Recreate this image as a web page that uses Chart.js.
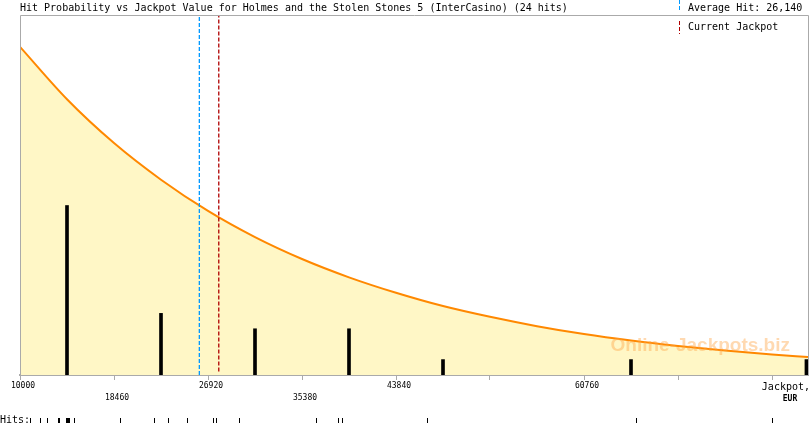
<!DOCTYPE html>
<html>
<head>
<meta charset="utf-8">
<script src="https://cdn.jsdelivr.net/npm/chart.js@4/dist/chart.umd.min.js"></script>
<style>
  html, body { margin: 0; padding: 0; background: #fff; }
  #wrap { width: 810px; height: 425px; }
</style>
</head>
<body>
<div id="wrap"><canvas id="chart" width="810" height="425"></canvas></div>
<script>
// Hit probability chart data
const chartTitle = 'Hit Probability vs Jackpot Value for Holmes and the Stolen Stones 5 (InterCasino) (24 hits)';
const averageHit = 26140;
const currentJackpot = 27890;
const xMin = 10000;
const xMax = 80920;

// axis ticks, every 8460 EUR
const tickValues = [10000, 18460, 26920, 35380, 43840, 52300, 60760, 69220, 77680];
const tickLabels = ['10000', '18460', '26920', '35380', '43840', '', '60760', '', ''];

// probability curve (fraction of plot height)
const curveX = [10000, 14230, 18460, 22690, 26920, 31150, 35380, 39610, 43840, 48070, 52300, 56530, 60760, 64990, 69220, 73450, 77680, 80920];
const curveY = [0.914, 0.768, 0.646, 0.544, 0.457, 0.384, 0.323, 0.272, 0.229, 0.192, 0.162, 0.136, 0.114, 0.096, 0.081, 0.068, 0.057, 0.050];

// histogram of hits per bin
const binCenters = [14230, 22690, 31150, 39610, 48070, 64990, 80780];
const binCounts = [11, 4, 3, 3, 1, 1, 1];

// individual hits (EUR)
const hitValues = [10855, 11755, 12385, 13420, 13465, 14095, 14185, 14230, 14275, 14365, 14815,
    19020, 22080, 23340, 25050,
    27350, 27600, 29690,
    36600, 38640, 39000,
    46610, 65460, 77700];

const MONO = '"DejaVu Sans Mono", "Liberation Mono", monospace';
const GRAY = '#aaaaaa';
const BLUE = '#0099ff';
const RED = '#b00000';

const decorPlugin = {
    id: 'decor',
    afterDatasetsDraw(chart) {
        const { ctx, chartArea } = chart;
        // watermark
        ctx.save();
        ctx.font = 'bold 19px "Liberation Sans", Arial, sans-serif';
        ctx.fillStyle = 'rgba(255, 165, 70, 0.42)';
        ctx.textAlign = 'right';
        ctx.textBaseline = 'alphabetic';
        ctx.fillText('Online-Jackpots.biz', chartArea.right - 18, chartArea.bottom - 24);
        ctx.restore();
    },
    afterDraw(chart) {
        const { ctx, chartArea } = chart;
        const x = chart.scales.x;
        ctx.save();
        // frame: top, left and right border
        ctx.strokeStyle = GRAY;
        ctx.lineWidth = 1;
        ctx.beginPath();
        ctx.moveTo(chartArea.left + 0.5, chartArea.bottom);
        ctx.lineTo(chartArea.left + 0.5, chartArea.top - 0.5);
        ctx.lineTo(chartArea.right + 0.5, chartArea.top - 0.5);
        ctx.lineTo(chartArea.right + 0.5, chartArea.bottom);
        ctx.stroke();

        // title
        ctx.fillStyle = '#000';
        ctx.font = '10px ' + MONO;
        ctx.textBaseline = 'alphabetic';
        ctx.textAlign = 'left';
        ctx.fillText(chartTitle, chartArea.left, 11);

        // legend
        const lx = 679.5;
        ctx.setLineDash([4, 2]);
        ctx.strokeStyle = BLUE;
        ctx.beginPath(); ctx.moveTo(lx, 0); ctx.lineTo(lx, 11); ctx.stroke();
        ctx.strokeStyle = RED;
        ctx.beginPath(); ctx.moveTo(lx, 21); ctx.lineTo(lx, 34); ctx.stroke();
        ctx.setLineDash([]);
        ctx.fillText('Average Hit: ' + averageHit.toLocaleString('en-US'), 688, 11);
        ctx.fillText('Current Jackpot', 688, 30);

        // axis name
        ctx.textAlign = 'right';
        ctx.fillText('Jackpot,', 810, 390);
        ctx.font = 'bold 8px ' + MONO;
        ctx.textAlign = 'center';
        ctx.fillText('EUR', 790, 401);

        // hits strip
        ctx.font = '10px ' + MONO;
        ctx.textAlign = 'left';
        ctx.fillText('Hits:', 0, 423);
        ctx.fillStyle = '#000';
        hitValues.forEach(v => {
            const px = Math.round(x.getPixelForValue(v));
            ctx.fillRect(px, 418, 1, 5);
        });
        ctx.restore();
    }
};

const ctx = document.getElementById('chart').getContext('2d');
new Chart(ctx, {
    type: 'line',
    data: {
        datasets: [
            {
                label: 'Average Hit',
                data: [{ x: averageHit, y: 0 }, { x: averageHit, y: 1 }],
                borderColor: BLUE,
                borderWidth: 1.3,
                borderDash: [4, 2],
                pointRadius: 0,
                fill: false,
                yAxisID: 'y',
                order: 1
            },
            {
                label: 'Current Jackpot',
                data: [{ x: currentJackpot, y: 0.01 }, { x: currentJackpot, y: 1 }],
                borderColor: RED,
                borderWidth: 1.3,
                borderDash: [4, 2],
                pointRadius: 0,
                fill: false,
                yAxisID: 'y',
                order: 1
            },
            {
                type: 'bar',
                label: 'Hits',
                data: binCenters.map((c, i) => ({ x: c, y: binCounts[i] })),
                backgroundColor: '#000',
                barThickness: 3,
                yAxisID: 'yHits',
                order: 2
            },
            {
                label: 'Hit Probability',
                data: curveX.map((c, i) => ({ x: c, y: curveY[i] })),
                borderColor: '#ff8800',
                borderWidth: 2,
                backgroundColor: '#fff7c6',
                fill: 'origin',
                pointRadius: 0,
                cubicInterpolationMode: 'monotone',
                yAxisID: 'y',
                order: 3
            }
        ]
    },
    options: {
        responsive: false,
        animation: false,
        layout: { padding: { left: 20, right: 2, top: 16, bottom: 21 } },
        plugins: {
            legend: { display: false },
            title: { display: false },
            tooltip: { enabled: false }
        },
        scales: {
            x: {
                type: 'linear',
                min: xMin,
                max: xMax,
                offset: false,
                afterBuildTicks: scale => { scale.ticks = tickValues.map(v => ({ value: v })); },
                grid: { drawOnChartArea: false, drawTicks: true, tickLength: 5, color: GRAY, offset: false },
                border: { color: GRAY, width: 2 },
                ticks: {
                    autoSkip: false,
                    maxRotation: 0,
                    padding: 0,
                    labelOffset: 3,
                    color: '#000',
                    font: { family: MONO, size: 8, lineHeight: 1.5 },
                    callback: (value, index) => {
                        const lbl = tickLabels[index] || '';
                        return index % 2 === 0 ? [lbl, ''] : ['', lbl];
                    }
                }
            },
            y: { display: false, min: 0, max: 1 },
            yHits: { display: false, min: 0, max: 23.3 }
        }
    },
    plugins: [decorPlugin]
});
</script>
</body>
</html>
